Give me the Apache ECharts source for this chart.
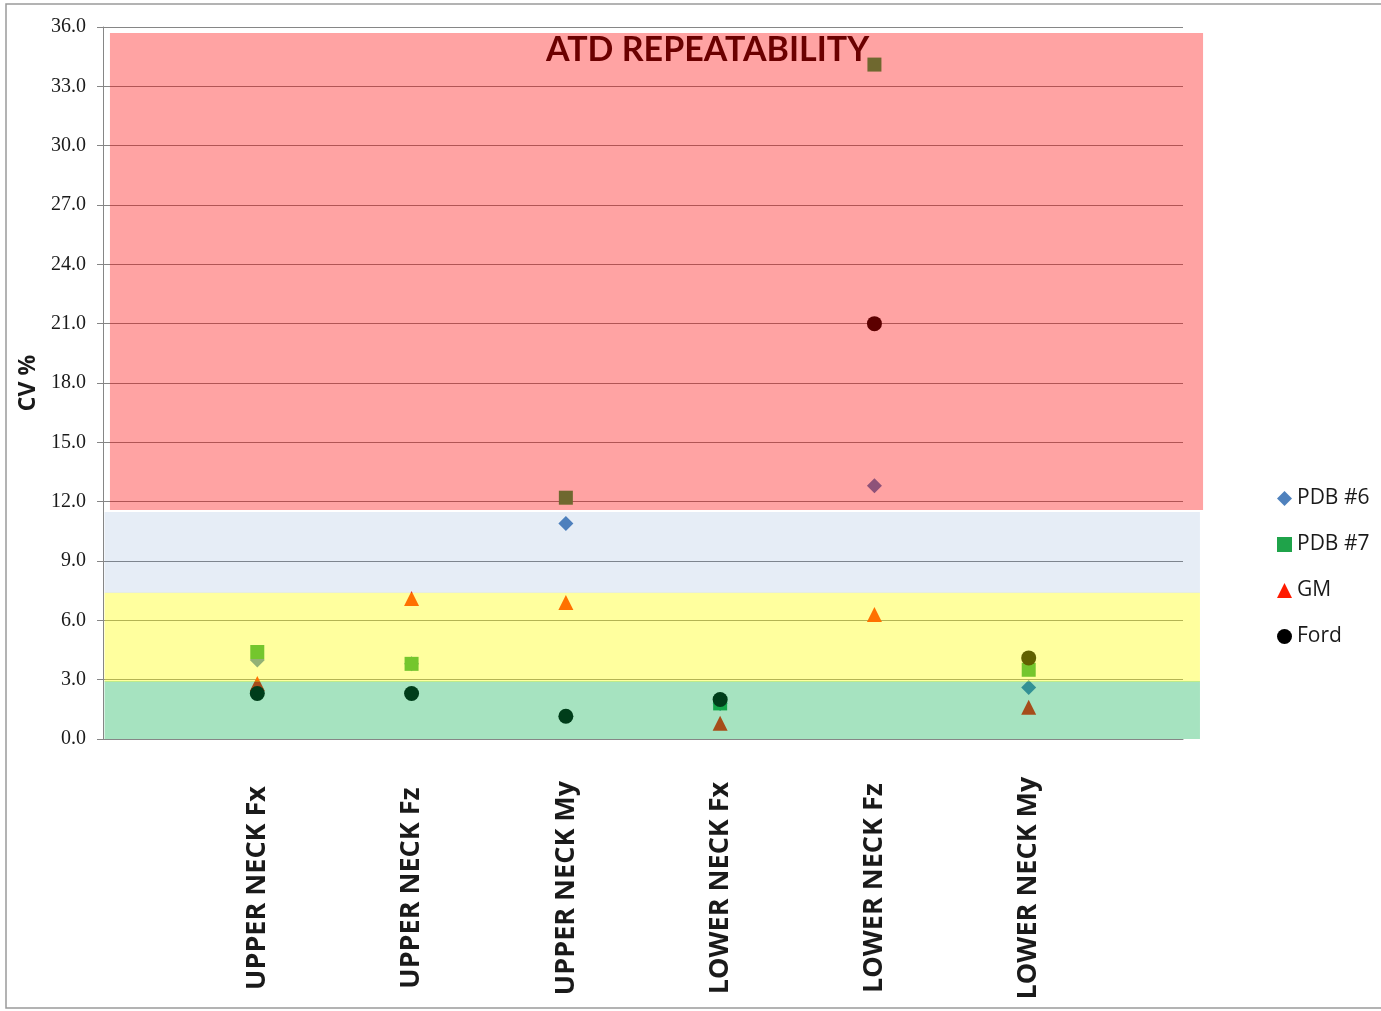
<!DOCTYPE html>
<html>
<head>
<meta charset="utf-8">
<title>ATD Repeatability</title>
<script src="https://cdn.jsdelivr.net/npm/echarts@6/dist/echarts.min.js"></script>
<style>
  html, body { margin: 0; padding: 0; background: #fff; }
  #chart { width: 1381px; height: 1011px; }
</style>
</head>
<body>
<div id="chart"></div>
<script>
// categories along x (placed at 1..6 on a 0..7 axis)
const categories = ['UPPER NECK Fx', 'UPPER NECK Fz', 'UPPER NECK My', 'LOWER NECK Fx', 'LOWER NECK Fz', 'LOWER NECK My'];

// CV % per lab
const pdb6 = [4.0, 3.8, 10.9, 1.8, 12.8, 2.6];
const pdb7 = [4.4, 3.8, 12.2, 1.8, 34.1, 3.5];
const gm   = [2.8, 7.1, 6.9, 0.8, 6.3, 1.6];
const ford = [2.3, 2.3, 1.15, 2.0, 21.0, 4.1];

// shaded zones (CV % range, x range in axis units)
const bandLow   = [0, 2.9, 7.38, 11.58];
const bandHigh  = [2.93, 7.4, 11.48, 35.7];
const bandStart = [0.01, 0.01, 0.01, 0.045];
const bandEnd   = [7.11, 7.11, 7.11, 7.13];

const yTicks = { min: 0, max: 36, interval: 3 };

const COLORS = {
  PDB6: '#4F81BD',
  PDB7: '#1FA34A',
  GM: '#FF1A00',
  FORD: '#000000',
  BANDS: ['rgba(0,174,74,0.35)', 'rgba(255,255,0,0.38)', 'rgba(79,129,189,0.14)', 'rgba(255,0,0,0.36)'],
  GRID: '#868686',
  TEXT: '#1a1a1a',
  TITLE: '#6B0000'
};

const toPoints = (vals) => vals.map((v, i) => [i + 1, v]);

const bandData = bandLow.map((lo, i) => [bandStart[i], bandEnd[i], lo, bandHigh[i]]);

const chart = echarts.init(document.getElementById('chart'), null, { renderer: 'canvas' });

const scatterSeries = (name, vals, symbol, size, color) => ({
  name: name,
  type: 'scatter',
  symbol: symbol,
  symbolSize: size,
  z: 2,
  itemStyle: { color: color, opacity: 1 },
  data: toPoints(vals)
});

chart.setOption({
  animation: false,
  backgroundColor: '#fff',
  title: {
    text: 'ATD REPEATABILITY',
    left: 541,
    top: 28,
    z: 20,
    textStyle: { color: COLORS.TITLE, fontSize: 34, fontWeight: 'bold', fontFamily: 'Lato' }
  },
  graphic: [{
    type: 'rect',
    shape: { x: 6, y: 4, width: 1380, height: 1004 },
    style: { fill: 'none', stroke: '#9a9a9a', lineWidth: 1.5 },
    silent: true
  }],
  grid: { left: 103, right: 198, top: 27, bottom: 272 },
  legend: {
    orient: 'vertical',
    left: 1272,
    top: 483,
    itemGap: 25,
    itemWidth: 15,
    itemHeight: 15,
    textStyle: { fontSize: 21, color: COLORS.TEXT, fontFamily: 'Open Sans' },
    data: [
      { name: 'PDB #6', icon: 'diamond' },
      { name: 'PDB #7', icon: 'rect' },
      { name: 'GM', icon: 'triangle' },
      { name: 'Ford', icon: 'circle' }
    ]
  },
  xAxis: {
    type: 'value',
    min: 0,
    max: 7,
    interval: 1,
    splitLine: { show: false },
    axisTick: { show: false },
    axisLine: { show: true, lineStyle: { color: COLORS.GRID, width: 1 } },
    axisLabel: {
      rotate: 90,
      align: 'center',
      verticalAlign: 'middle',
      margin: 149,
      fontSize: 27,
      fontWeight: 'bold',
      fontFamily: 'Open Sans',
      color: COLORS.TEXT,
      formatter: (v) => categories[v - 1] || ''
    }
  },
  yAxis: {
    type: 'value',
    min: yTicks.min,
    max: yTicks.max,
    interval: yTicks.interval,
    name: 'CV %',
    nameLocation: 'middle',
    nameGap: 62,
    nameTextStyle: { fontSize: 23, fontWeight: 'bold', fontFamily: 'Open Sans', color: COLORS.TEXT },
    axisLine: { show: true, lineStyle: { color: COLORS.GRID, width: 1 } },
    axisTick: { show: true, length: 6, lineStyle: { color: COLORS.GRID } },
    axisLabel: {
      margin: 17,
      fontSize: 20,
      fontFamily: 'Liberation Serif',
      color: COLORS.TEXT,
      formatter: (v) => v.toFixed(1)
    },
    splitLine: { show: true, lineStyle: { color: COLORS.GRID, width: 1 } }
  },
  series: [
    scatterSeries('PDB #6', pdb6, 'diamond', 15, COLORS.PDB6),
    scatterSeries('PDB #7', pdb7, 'rect', 14, COLORS.PDB7),
    scatterSeries('GM', gm, 'triangle', 15, COLORS.GM),
    scatterSeries('Ford', ford, 'circle', 15, COLORS.FORD),
    {
      name: 'zones',
      type: 'custom',
      z: 5,
      silent: true,
      clip: false,
      renderItem: (params, api) => {
        const p0 = api.coord([api.value(0), api.value(3)]);
        const p1 = api.coord([api.value(1), api.value(2)]);
        return {
          type: 'rect',
          shape: { x: p0[0], y: p0[1], width: p1[0] - p0[0], height: p1[1] - p0[1] },
          style: { fill: COLORS.BANDS[params.dataIndex] }
        };
      },
      encode: { x: [0, 1], y: [2, 3] },
      data: bandData
    }
  ]
});
</script>
</body>
</html>
